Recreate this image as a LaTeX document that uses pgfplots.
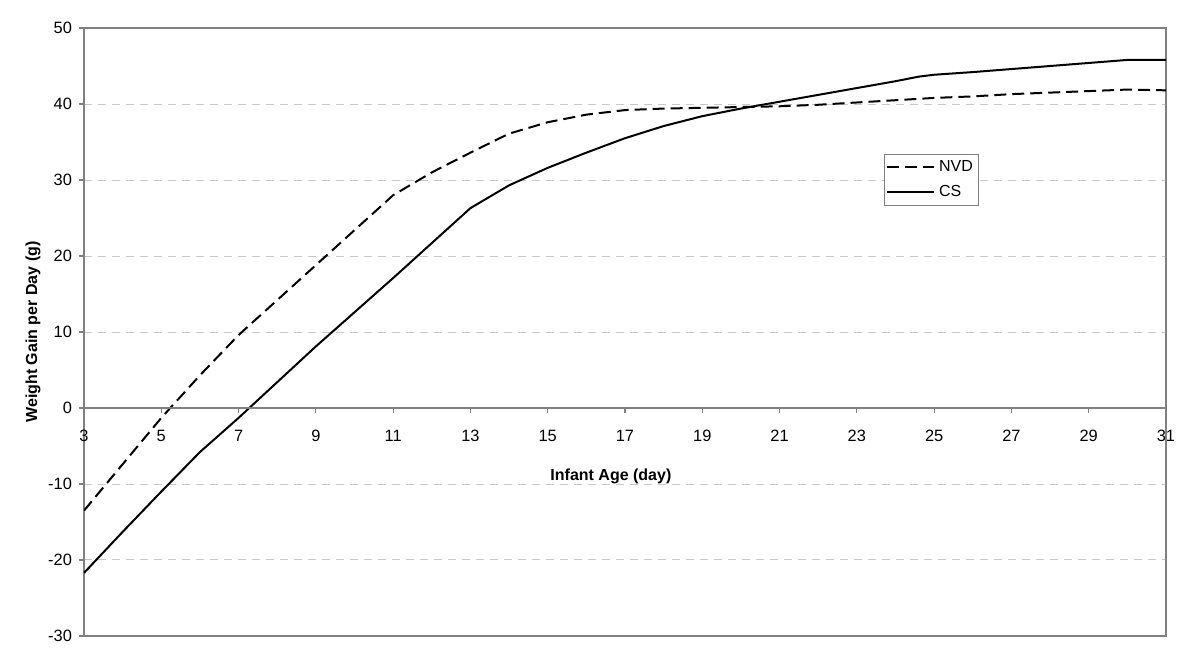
\documentclass[border=0pt]{standalone}
\usepackage{fontspec}
\setmainfont{Liberation Sans}
\usepackage{pgfplots}
\pgfplotsset{compat=1.18}
\definecolor{framegray}{RGB}{128,128,128}
\definecolor{gridgray}{RGB}{200,200,200}
\begin{document}
\begin{tikzpicture}
\pgfplotsset{common/.style={
  scale only axis, width=541pt, height=304pt,
  at={(0,0)}, anchor=south west,
  xmin=3, xmax=31, ymin=-30, ymax=50,
  /pgf/number format/assume math mode=true,
  tick label style={font=\fontsize{8.2}{9.8}\selectfont, text=black},
  major tick length=2.5pt,
  tick style={framegray, line width=0.6pt},
}}
\begin{axis}[common,
  axis line style={framegray, line width=0.7pt},
  xtick=\empty,
  ytick={-30,-20,...,50},
  ytick pos=left, tick align=outside,
  ymajorgrids,
  grid style={gridgray, line width=0.5pt, dash pattern=on 4pt off 3pt},
  ylabel={Weight Gain per Day (g)},
  ylabel style={at={(axis description cs:-0.047,0.5)}, anchor=center,
    font=\bfseries\fontsize{8}{9.6}\selectfont},
  legend style={at={(axis description cs:0.739,0.793)}, anchor=north west,
    draw=framegray, line width=0.5pt, font=\fontsize{8}{9.6}\selectfont,
    inner xsep=1pt, inner ysep=1pt, row sep=1.5pt},
  legend cell align=left,
  legend image code/.code={\draw[#1] (0pt,0pt) -- (23.5pt,0pt);},
]
\addplot[black, line width=1pt, dash pattern=on 6pt off 3pt] coordinates {
(3,-13.5) (4,-7.4) (5,-1.3) (6,4.3) (7,9.6) (8,14.2) (9,18.8) (10,23.4)
(11,28.0) (12,31.0) (13,33.6) (14,36.1) (15,37.6) (16,38.6) (17,39.2)
(18,39.4) (19,39.5) (20,39.6) (21,39.7) (22,39.9) (23,40.2) (24,40.5)
(25,40.8) (26,41.0) (27,41.3) (28,41.5) (29,41.7) (30,41.9) (31,41.8)};
\addlegendentry{NVD}
\addplot[black, line width=1pt] coordinates {
(3,-21.7) (4,-16.3) (5,-11.0) (6,-5.8) (7,-1.3) (8,3.4) (9,8.1) (10,12.6)
(11,17.1) (12,21.7) (13,26.3) (14,29.3) (15,31.6) (16,33.6) (17,35.5)
(18,37.1) (19,38.4) (20,39.4) (21,40.3) (22,41.2) (23,42.1) (24,43.0)
(24.6,43.6) (25,43.85) (26,44.2) (27,44.6) (28,45.0) (29,45.4) (30,45.8) (31,45.8)};
\addlegendentry{CS}
\end{axis}
\begin{axis}[common,
  axis x line=middle, axis y line=none,
  x axis line style={-, framegray, line width=0.7pt},
  xtick={3,5,...,31}, ytick=\empty,
  tick align=outside,
  xticklabel style={anchor=north, yshift=-5pt},
  xlabel={Infant Age (day)},
  xlabel style={at={(axis description cs:0.487,0.263)}, anchor=center,
    font=\bfseries\fontsize{8}{9.6}\selectfont},
]
\end{axis}
\pgfresetboundingbox
\path[use as bounding box] (-42pt,-16.5pt) rectangle (558pt,318pt);
\end{tikzpicture}
\end{document}
